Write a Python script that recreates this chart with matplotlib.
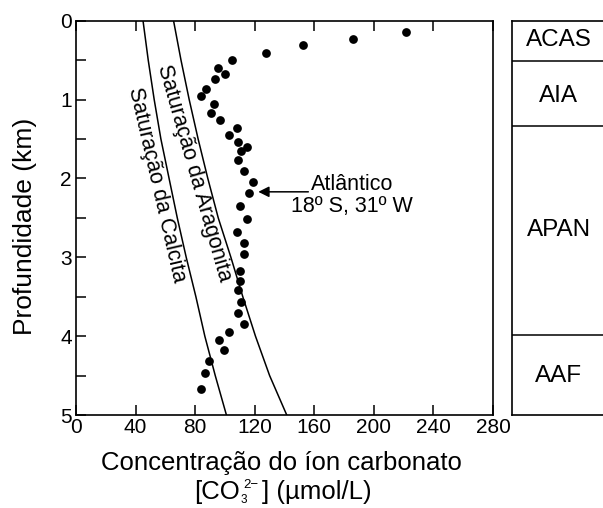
import numpy as np
import matplotlib
matplotlib.use("Agg")
import matplotlib.pyplot as plt
from matplotlib.ticker import MultipleLocator, FuncFormatter

plt.rcParams["font.family"] = ["Liberation Sans", "DejaVu Sans"]

# --- data ---
obs_conc = [221.6, 186.3, 152.7, 127.4, 104.8, 95.2, 100.3, 93.2, 87.3, 84.0,
            92.9, 90.6, 96.9, 108.4, 102.8, 109.0, 114.6, 110.8, 109.0, 112.6,
            118.9, 116.0, 110.4, 115.1, 108.4, 112.8, 112.8, 110.4, 110.1, 109.0,
            110.8, 108.8, 112.6, 102.5, 96.0, 99.2, 89.1, 86.6, 84.0]
obs_depth = [0.14, 0.23, 0.31, 0.41, 0.50, 0.60, 0.67, 0.74, 0.86, 0.96,
             1.06, 1.17, 1.26, 1.36, 1.45, 1.54, 1.60, 1.65, 1.77, 1.91,
             2.05, 2.19, 2.35, 2.51, 2.68, 2.82, 2.96, 3.18, 3.30, 3.42,
             3.57, 3.71, 3.85, 3.95, 4.05, 4.17, 4.31, 4.47, 4.67]

curve_depth = [0, 0.5, 1.0, 1.5, 2.0, 2.5, 3.0, 3.5, 4.0, 4.5, 5.0]
calcite = [45.0, 48.5, 52.5, 57.0, 62.5, 68.0, 74.0, 80.5, 86.5, 93.5, 101.0]
aragonite = [65.5, 70.5, 76.0, 82.0, 88.5, 95.5, 104.0, 112.0, 120.5, 130.0, 141.5]

layer_names = ["ACAS", "AIA", "APAN", "AAF"]
layer_bounds = [0.51, 1.33, 3.98]
layer_label_depth = [0.24, 0.96, 2.65, 4.51]

W, H, DPI = 603, 508, 100
fig = plt.figure(figsize=(W / DPI, H / DPI), dpi=DPI)

# main panel
ax = fig.add_axes([76 / W, 1 - 415 / H, 417 / W, (415 - 20.7) / H])
ax.plot(obs_conc, obs_depth, "o", color="black", ms=6.3, mew=0)
ax.plot(calcite, curve_depth, color="black", lw=1.1)
ax.plot(aragonite, curve_depth, color="black", lw=1.1)

ax.text(54.2, 2.08, "Saturação da Calcita", rotation=-77, fontsize=15.5,
        ha="center", va="center", rotation_mode="anchor")
ax.text(79.2, 1.93, "Saturação da Aragonita", rotation=-74, fontsize=15.5,
        ha="center", va="center", rotation_mode="anchor")

ax.annotate("", xy=(122.4, 2.17), xytext=(156, 2.17),
            arrowprops=dict(arrowstyle="-|>", color="black", lw=1.1,
                            mutation_scale=16, shrinkA=0, shrinkB=0))
ax.text(185.5, 2.22, "Atlântico\n18º S, 31º W", fontsize=15.5, ha="center",
        va="center", linespacing=1.05)

ax.set_xlim(0, 280)
ax.set_ylim(5, 0)
ax.xaxis.set_major_locator(MultipleLocator(40))
ax.yaxis.set_major_locator(MultipleLocator(0.5))
ax.yaxis.set_major_formatter(
    FuncFormatter(lambda v, p: f"{v:.0f}" if abs(v - round(v)) < 1e-6 else ""))
ax.tick_params(direction="in", length=7, width=1.1, labelsize=15, pad=2,
               top=True, right=False)
ax.tick_params(axis="y", pad=3)
for s in ax.spines.values():
    s.set_linewidth(1.2)

# axis titles placed by hand
fig.text(25 / W, 1 - 226 / H, "Profundidade (km)", rotation=90, fontsize=19,
         ha="center", va="center")
fig.text(281 / W, 1 - 470 / H, "Concentração do íon carbonato", fontsize=18.5,
         ha="center", va="baseline")
base = 1 - 499.5 / H
t1 = fig.text(194 / W, base, "[CO", fontsize=18.5, va="baseline")
t2 = fig.add_artist(plt.Annotation("3", xy=(1, base), xycoords=(t1, "figure fraction"),
                                   xytext=(0.5, -2.5), textcoords="offset points",
                                   fontsize=8.5, va="baseline"))
t3 = fig.add_artist(plt.Annotation("2\u2212", xy=(0.4, base), xycoords=(t2, "figure fraction"),
                                   xytext=(0, 8.5), textcoords="offset points",
                                   fontsize=9.5, va="baseline"))
fig.add_artist(plt.Annotation("] (µmol/L)", xy=(1, base), xycoords=(t3, "figure fraction"),
                              xytext=(2.5, 0), textcoords="offset points",
                              fontsize=18.5, va="baseline"))

# water-mass panel
ax2 = fig.add_axes([511.7 / W, 1 - 415 / H, (W - 511.7 + 5) / W, (415 - 20.7) / H])
ax2.set_xlim(0, 1)
ax2.set_ylim(5, 0)
for b in layer_bounds:
    ax2.axhline(b, color="black", lw=1.1)
for name, d in zip(layer_names, layer_label_depth):
    ax2.text(47 / 96, d, name, fontsize=17.5, ha="center", va="center")
ax2.set_xticks([])
ax2.set_yticks([])
ax2.spines["right"].set_visible(False)
for s in ax2.spines.values():
    s.set_linewidth(1.2)

fig.savefig("out.png", dpi=DPI)
